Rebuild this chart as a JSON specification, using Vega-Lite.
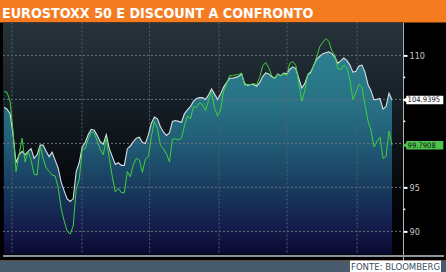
{
"$schema": "https://vega.github.io/schema/vega-lite/v6.json",
"background": "#F47B20",
"padding": {"top": 6.4, "left": 0, "right": 0, "bottom": 0},
"spacing": 0,
"config": {"view": {"stroke": null}},
"title": {"text": "EUROSTOXX 50 E DISCOUNT A CONFRONTO", "anchor": "start", "frame": "group", "font": "DejaVu Sans Condensed", "fontSize": 14.2, "fontWeight": "bold", "color": "#ffffff", "offset": 0.4, "dx": 2},
"datasets": {
"stoxx": [{"d":0,"v":104.1},{"d":1,"v":103.9},{"d":2,"v":103.4},{"d":3,"v":101.0},{"d":4,"v":97.8},{"d":5,"v":98.7},{"d":6,"v":99.1},{"d":7,"v":98.7},{"d":8,"v":99.1},{"d":9,"v":99.4},{"d":10,"v":98.3},{"d":11,"v":98.7},{"d":12,"v":99.8},{"d":13,"v":99.8},{"d":14,"v":99.1},{"d":15,"v":98.5},{"d":16,"v":99.0},{"d":17,"v":98.1},{"d":18,"v":97.2},{"d":19,"v":95.6},{"d":20,"v":94.6},{"d":21,"v":93.7},{"d":22,"v":93.4},{"d":23,"v":93.7},{"d":24,"v":96.8},{"d":25,"v":97.8},{"d":26,"v":99.6},{"d":27,"v":100.1},{"d":28,"v":101.0},{"d":29,"v":101.6},{"d":30,"v":101.5},{"d":31,"v":100.9},{"d":32,"v":100.2},{"d":33,"v":99.9},{"d":34,"v":101.0},{"d":35,"v":99.4},{"d":36,"v":98.5},{"d":37,"v":97.6},{"d":38,"v":97.8},{"d":39,"v":97.5},{"d":40,"v":97.5},{"d":41,"v":99.4},{"d":42,"v":99.7},{"d":43,"v":100.2},{"d":44,"v":100.6},{"d":45,"v":100.7},{"d":46,"v":100.1},{"d":47,"v":100.0},{"d":48,"v":101.0},{"d":49,"v":102.3},{"d":50,"v":103.0},{"d":51,"v":102.8},{"d":52,"v":101.9},{"d":53,"v":101.3},{"d":54,"v":100.9},{"d":55,"v":101.2},{"d":56,"v":102.5},{"d":57,"v":102.6},{"d":58,"v":102.5},{"d":59,"v":102.4},{"d":60,"v":103.4},{"d":61,"v":103.8},{"d":62,"v":104.2},{"d":63,"v":104.8},{"d":64,"v":105.1},{"d":65,"v":105.2},{"d":66,"v":105.2},{"d":67,"v":105.0},{"d":68,"v":105.5},{"d":69,"v":106.2},{"d":70,"v":105.6},{"d":71,"v":105.0},{"d":72,"v":105.6},{"d":73,"v":106.4},{"d":74,"v":106.9},{"d":75,"v":107.4},{"d":76,"v":107.4},{"d":77,"v":107.5},{"d":78,"v":107.6},{"d":79,"v":107.9},{"d":80,"v":106.8},{"d":81,"v":106.6},{"d":82,"v":106.7},{"d":83,"v":106.7},{"d":84,"v":106.5},{"d":85,"v":106.9},{"d":86,"v":107.6},{"d":87,"v":108.0},{"d":88,"v":107.9},{"d":89,"v":107.6},{"d":90,"v":107.4},{"d":91,"v":107.9},{"d":92,"v":107.7},{"d":93,"v":108.0},{"d":94,"v":107.9},{"d":95,"v":108.4},{"d":96,"v":108.7},{"d":97,"v":108.5},{"d":98,"v":107.4},{"d":99,"v":106.3},{"d":100,"v":106.8},{"d":101,"v":107.8},{"d":102,"v":108.1},{"d":103,"v":108.9},{"d":104,"v":109.6},{"d":105,"v":109.9},{"d":106,"v":110.2},{"d":107,"v":110.3},{"d":108,"v":110.4},{"d":109,"v":110.2},{"d":110,"v":109.8},{"d":111,"v":109.1},{"d":112,"v":109.4},{"d":113,"v":109.7},{"d":114,"v":109.4},{"d":115,"v":108.9},{"d":116,"v":108.1},{"d":117,"v":108.2},{"d":118,"v":108.8},{"d":119,"v":108.9},{"d":120,"v":108.1},{"d":121,"v":106.7},{"d":122,"v":106.0},{"d":123,"v":104.96},{"d":124,"v":105.0},{"d":125,"v":105.1},{"d":126,"v":103.9},{"d":127,"v":104.2},{"d":128,"v":105.7},{"d":129,"v":104.9395}],
"disc": [{"d":0,"v":105.9},{"d":1,"v":105.8},{"d":2,"v":104.8},{"d":3,"v":101.4},{"d":4,"v":96.8},{"d":5,"v":98.7},{"d":6,"v":100.6},{"d":7,"v":97.9},{"d":8,"v":99.1},{"d":9,"v":98.1},{"d":10,"v":96.5},{"d":11,"v":96.4},{"d":12,"v":99.7},{"d":13,"v":98.3},{"d":14,"v":97.2},{"d":15,"v":96.8},{"d":16,"v":96.4},{"d":17,"v":96.3},{"d":18,"v":95.0},{"d":19,"v":92.6},{"d":20,"v":91.2},{"d":21,"v":90.0},{"d":22,"v":89.7},{"d":23,"v":90.6},{"d":24,"v":94.8},{"d":25,"v":95.9},{"d":26,"v":99.3},{"d":27,"v":99.4},{"d":28,"v":100.5},{"d":29,"v":101.3},{"d":30,"v":101.2},{"d":31,"v":100.2},{"d":32,"v":99.3},{"d":33,"v":98.7},{"d":34,"v":100.6},{"d":35,"v":98.3},{"d":36,"v":96.2},{"d":37,"v":94.5},{"d":38,"v":94.9},{"d":39,"v":94.4},{"d":40,"v":94.4},{"d":41,"v":96.8},{"d":42,"v":96.2},{"d":43,"v":97.6},{"d":44,"v":98.3},{"d":45,"v":98.1},{"d":46,"v":96.7},{"d":47,"v":98.2},{"d":48,"v":98.5},{"d":49,"v":100.8},{"d":50,"v":102.5},{"d":51,"v":101.7},{"d":52,"v":99.8},{"d":53,"v":99.4},{"d":54,"v":98.8},{"d":55,"v":97.9},{"d":56,"v":100.5},{"d":57,"v":100.5},{"d":58,"v":100.4},{"d":59,"v":100.6},{"d":60,"v":102.0},{"d":61,"v":103.1},{"d":62,"v":102.8},{"d":63,"v":104.2},{"d":64,"v":104.1},{"d":65,"v":104.6},{"d":66,"v":104.4},{"d":67,"v":103.7},{"d":68,"v":104.9},{"d":69,"v":105.9},{"d":70,"v":104.0},{"d":71,"v":103.1},{"d":72,"v":103.8},{"d":73,"v":105.9},{"d":74,"v":106.8},{"d":75,"v":107.7},{"d":76,"v":107.7},{"d":77,"v":107.8},{"d":78,"v":107.8},{"d":79,"v":108.0},{"d":80,"v":106.6},{"d":81,"v":106.7},{"d":82,"v":106.7},{"d":83,"v":106.8},{"d":84,"v":106.7},{"d":85,"v":107.5},{"d":86,"v":108.8},{"d":87,"v":109.2},{"d":88,"v":108.6},{"d":89,"v":107.7},{"d":90,"v":107.4},{"d":91,"v":107.9},{"d":92,"v":107.7},{"d":93,"v":107.9},{"d":94,"v":107.7},{"d":95,"v":109.1},{"d":96,"v":109.3},{"d":97,"v":108.9},{"d":98,"v":106.8},{"d":99,"v":104.8},{"d":100,"v":106.0},{"d":101,"v":107.9},{"d":102,"v":108.2},{"d":103,"v":108.8},{"d":104,"v":109.9},{"d":105,"v":111.0},{"d":106,"v":111.5},{"d":107,"v":111.9},{"d":108,"v":111.6},{"d":109,"v":110.5},{"d":110,"v":110.0},{"d":111,"v":108.5},{"d":112,"v":108.4},{"d":113,"v":108.9},{"d":114,"v":108.6},{"d":115,"v":107.2},{"d":116,"v":105.0},{"d":117,"v":105.8},{"d":118,"v":106.7},{"d":119,"v":106.4},{"d":120,"v":104.4},{"d":121,"v":102.6},{"d":122,"v":101.5},{"d":123,"v":99.6},{"d":124,"v":100.2},{"d":125,"v":100.7},{"d":126,"v":98.3},{"d":127,"v":98.5},{"d":128,"v":101.4},{"d":129,"v":99.7908}],
"hgrid": [{"v":90},{"v":95},{"v":100},{"v":105},{"v":110}],
"vgrid": [{"d":2.66},{"d":25.93},{"d":48.4},{"d":71.5},{"d":94.1},{"d":117.4}],
"minor": [{"v":92.5},{"v":102.5},{"v":107.5}],
"last": [{"lab":"104.9395","v":104.9395,"k":"w"},{"lab":"99.7908","v":99.7908,"k":"g"}]
},
"vconcat": [
{
"width": 446, "height": 238,
"view": {"fill": "#000000", "stroke": null},
"layer": [
{"data": {"values": [{}]},
 "mark": {"type": "rect", "color": {"gradient": "linear", "x1": 0, "y1": 0, "x2": 0, "y2": 1, "stops": [{"offset": 0, "color": "#27333b"}, {"offset": 0.15, "color": "#202b33"}, {"offset": 0.33, "color": "#172028"}, {"offset": 0.47, "color": "#10171c"}, {"offset": 0.6, "color": "#0a0e12"}, {"offset": 0.73, "color": "#050609"}, {"offset": 1, "color": "#020205"}]}},
 "encoding": {
  "x": {"datum": -0.33, "type": "quantitative", "scale": {"domain": [-1.33, 146.94], "nice": false, "zero": false}, "axis": null},
  "x2": {"datum": 132.6},
  "y": {"datum": 113.75, "type": "quantitative", "scale": {"domain": [86.705, 113.75], "nice": false, "zero": false},
        "axis": {"orient": "right", "offset": -43, "values": [90, 95, 110], "title": null, "grid": false, "domainColor": "#b8b8b8", "domainWidth": 1, "tickColor": "#ffffff", "tickSize": 4, "tickWidth": 2, "labelColor": "#c8c8c8", "labelFontSize": 9, "labelFont": "DejaVu Sans Condensed", "labelPadding": 2, "labelFlush": false, "labelOverlap": false}},
  "y2": {"datum": 87.39}
 }},
{"data": {"name": "stoxx"},
 "mark": {"type": "area", "line": false, "color": {"gradient": "linear", "x1": 0, "y1": 0, "x2": 0, "y2": 1, "stops": [{"offset": 0, "color": "#2b7f90"}, {"offset": 0.25, "color": "#287385"}, {"offset": 0.45, "color": "#215c76"}, {"offset": 0.6, "color": "#1b4666"}, {"offset": 0.74, "color": "#163058"}, {"offset": 0.87, "color": "#141b4a"}, {"offset": 1, "color": "#0a0a32"}]}},
 "encoding": {"x": {"field": "d", "type": "quantitative"}, "y": {"field": "v", "type": "quantitative"}, "y2": {"datum": 87.39}}},
{"data": {"name": "hgrid"},
 "mark": {"type": "rule", "color": "#66727c", "strokeWidth": 1, "strokeDash": [2, 2]},
 "encoding": {"x": {"datum": -0.33, "type": "quantitative"}, "x2": {"datum": 132.6}, "y": {"field": "v", "type": "quantitative"}}},
{"data": {"name": "vgrid"},
 "mark": {"type": "rule", "color": "#56616a", "strokeWidth": 1, "strokeDash": [2, 2]},
 "encoding": {"x": {"field": "d", "type": "quantitative"}, "y": {"datum": 113.75, "type": "quantitative"}, "y2": {"datum": 87.39}}},
{"data": {"name": "stoxx"},
 "mark": {"type": "line", "color": "#d8dfe4", "strokeWidth": 1.1},
 "encoding": {"x": {"field": "d", "type": "quantitative"}, "y": {"field": "v", "type": "quantitative"}}},
{"data": {"name": "disc"},
 "mark": {"type": "line", "color": "#3fcf3f", "strokeWidth": 1},
 "encoding": {"x": {"field": "d", "type": "quantitative"}, "y": {"field": "v", "type": "quantitative"}}},
{"data": {"values": [{}]},
 "mark": {"type": "rule", "color": "#8d949a", "strokeWidth": 2},
 "encoding": {"x": {"datum": -0.33, "type": "quantitative"}, "x2": {"datum": 146.3}, "y": {"datum": 87.2, "type": "quantitative"}}},
{"data": {"name": "minor"},
 "mark": {"type": "point", "shape": "square", "filled": true, "size": 3, "color": "#ffffff", "opacity": 1},
 "encoding": {"x": {"datum": 133.1, "type": "quantitative"}, "y": {"field": "v", "type": "quantitative"}}},
{"data": {"name": "last"},
 "mark": {"type": "tick", "orient": "horizontal", "thickness": 8.5, "size": 37, "opacity": 1},
 "encoding": {"x": {"datum": 139.9, "type": "quantitative"}, "y": {"field": "v", "type": "quantitative"},
   "color": {"field": "k", "type": "nominal", "scale": {"domain": ["w", "g"], "range": ["#ffffff", "#4cc54c"]}, "legend": null}}},
{"data": {"name": "last"},
 "mark": {"type": "point", "shape": "triangle-left", "filled": true, "size": 28, "opacity": 1},
 "encoding": {"x": {"datum": 133.2, "type": "quantitative"}, "y": {"field": "v", "type": "quantitative"},
   "color": {"field": "k", "type": "nominal", "legend": null}}},
{"data": {"name": "last"},
 "mark": {"type": "text", "align": "left", "baseline": "middle", "fontSize": 7.6, "font": "DejaVu Sans Condensed", "color": "#101010", "dx": 0.5, "dy": 0.5},
 "encoding": {"x": {"datum": 134.0, "type": "quantitative"}, "y": {"field": "v", "type": "quantitative"}, "text": {"field": "lab"}}}
]
},
{
"spacing": 0,
"hconcat": [
 {"width": 350, "height": 13, "view": {"fill": "#475b6d", "stroke": null}, "data": {"values": [{}]}, "mark": {"type": "text", "text": ""}},
 {"width": 91, "height": 13, "view": {"fill": "#ffffff", "stroke": null}, "data": {"values": [{}]}, "mark": {"type": "text", "text": "FONTE: BLOOMBERG", "color": "#3b4c5e", "fontSize": 9.5, "font": "DejaVu Sans Condensed", "dy": 0.5}},
 {"width": 5, "height": 13, "view": {"fill": "#475b6d", "stroke": null}, "data": {"values": [{}]}, "mark": {"type": "text", "text": ""}}
]
}
]
}
